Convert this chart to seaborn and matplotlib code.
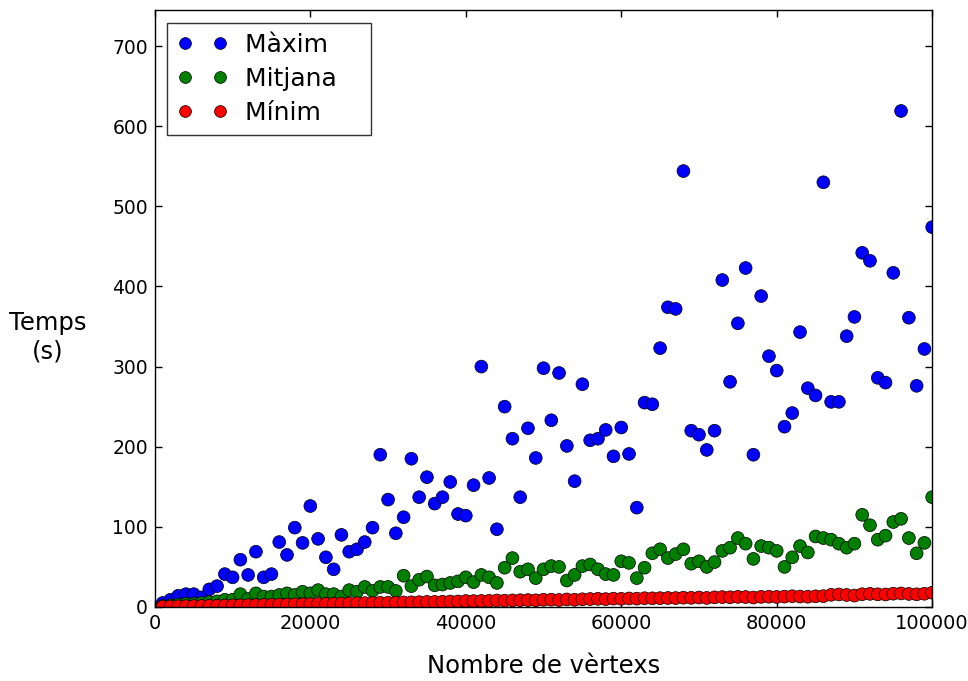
import numpy as np
import pandas as pd
import matplotlib
matplotlib.use("Agg")
import matplotlib.pyplot as plt
from matplotlib.lines import Line2D
import seaborn as sns

# ---- data ----
vertices = list(range(1000, 100001, 1000))

maxim = [5, 9, 14, 16, 16, 12, 22, 26, 41, 37, 59, 40, 69, 37, 41, 81, 65,
         99, 80, 126, 85, 62, 47, 90, 69, 72, 81, 99, 190, 134, 92, 112, 185, 137,
         162, 129, 137, 156, 116, 114, 152, 300, 161, 97, 250, 210, 137, 223, 186, 298, 233,
         292, 201, 157, 278, 208, 210, 221, 188, 224, 191, 124, 255, 253, 323, 374, 372,
         544, 220, 215, 196, 220, 408, 281, 354, 423, 190, 388, 313, 295, 225, 242, 343, 273, 264,
         530, 256, 256, 338, 362, 442, 432, 286, 280, 417, 619, 361, 276, 322, 474]

mitjana = [1, 2, 3, 4, 4, 5, 6, 7, 9, 9, 16, 10, 17, 13, 13, 15,
           17, 15, 19, 17, 21, 16, 16, 13, 21, 19, 25, 20, 25, 25, 20, 39, 26,
           34, 38, 27, 28, 30, 32, 37, 31, 40, 37, 30, 49, 61, 44, 47, 36, 47,
           51, 50, 33, 40, 51, 53, 47, 41, 40, 57, 55, 36, 49, 67, 72, 61, 66, 72,
           54, 57, 50, 56, 70, 74, 86, 79, 60, 76, 74, 70, 50, 62, 76, 68, 88,
           86, 84, 79, 74, 79, 115, 102, 84, 89, 106, 110, 86, 67, 80, 137]

minim = [0.4, 0.6, 0.8, 1.0, 1.1, 1.2, 1.5, 1.6, 1.8, 2.0,
         2.1, 2.3, 2.4, 2.6, 2.8, 3.0, 3.1, 3.3, 3.4, 3.7,
         3.8, 3.9, 4.1, 4.3, 4.4, 4.7, 4.8, 4.9, 5.2, 5.3,
         5.4, 5.7, 5.8, 6.0, 6.3, 6.3, 6.5, 6.8, 6.9, 7.4,
         7.3, 7.5, 7.7, 8.1, 7.9, 8.2, 8.4, 8.6, 8.3, 9.0,
         9.1, 8.7, 9.4, 9.0, 9.6, 9.9, 10.2, 9.8, 10.4, 10.2,
         10.6, 10.4, 10.9, 10.8, 11.0, 11.2, 11.1, 11.6, 11.4, 11.8,
         11.3, 12.0, 12.3, 12.1, 12.6, 12.4, 11.8, 12.6, 12.8, 12.5,
         12.9, 13.4, 13.0, 12.8, 13.3, 13.5, 15.2, 15.6, 15.0, 14.2,
         15.9, 16.4, 15.8, 15.6, 16.6, 16.9, 16.3, 15.8, 16.5, 17.8]

series_names = ["Màxim", "Mitjana", "Mínim"]
series_colors = ["#0000ff", "#007f00", "#ff0000"]
x_ticks = [0, 20000, 40000, 60000, 80000, 100000]
y_ticks = [0, 100, 200, 300, 400, 500, 600, 700]

df = pd.concat([
    pd.DataFrame({"x": vertices, "y": vals, "serie": name})
    for name, vals in zip(series_names, [maxim, mitjana, minim])
], ignore_index=True)

# ---- plot ----
sns.set_style("white")
plt.rcParams["font.family"] = ["DejaVu Sans"]
plt.rcParams["text.color"] = "black"
plt.rcParams["axes.labelcolor"] = "black"
plt.rcParams["xtick.color"] = "black"
plt.rcParams["ytick.color"] = "black"

fig = plt.figure(figsize=(9.68, 6.81), dpi=100)
ax = fig.add_axes([0.160, 0.1087, 0.803, 0.8766])

sns.scatterplot(data=df, x="x", y="y", hue="serie", hue_order=series_names,
                palette=dict(zip(series_names, series_colors)),
                s=85, edgecolor="black", linewidth=0.5, legend=False, ax=ax)

ax.set_xlim(0, 100000)
ax.set_ylim(0, 745)
ax.set_xticks(x_ticks)
ax.set_yticks(y_ticks)
ax.set_xticklabels([str(t) for t in x_ticks], fontsize=14, color="black")
ax.set_yticklabels([str(t) for t in y_ticks], fontsize=13.5, color="black")
ax.tick_params(direction="in", length=5, width=1, top=True, right=True,
               bottom=True, left=True, pad=5, colors="black")
for sp in ax.spines.values():
    sp.set_color("black")
    sp.set_linewidth(1.0)

ax.set_xlabel("Nombre de vèrtexs", fontsize=17.5, color="black")
ax.xaxis.set_label_coords(0.5, -0.078)
ax.set_ylabel("Temps\n(s)", fontsize=17.5, rotation=0, ha="center", va="center",
              multialignment="center", color="black")
ax.yaxis.set_label_coords(-0.138, 0.452)

handles = [Line2D([], [], marker="o", linestyle="None", markersize=8.5,
                  markerfacecolor=c, markeredgecolor="black", markeredgewidth=0.5)
           for c in series_colors]
leg = ax.legend(handles, [n + "   " for n in series_names], loc="upper left",
                numpoints=2, fontsize=18, frameon=True, fancybox=False,
                borderpad=0.4, handlelength=2.0, handletextpad=0.7,
                labelspacing=0.4, borderaxespad=0.5)
for t in leg.get_texts():
    t.set_color("black")
leg.get_frame().set_edgecolor("black")
leg.get_frame().set_linewidth(1.0)

fig.savefig("out.png", dpi=100)
